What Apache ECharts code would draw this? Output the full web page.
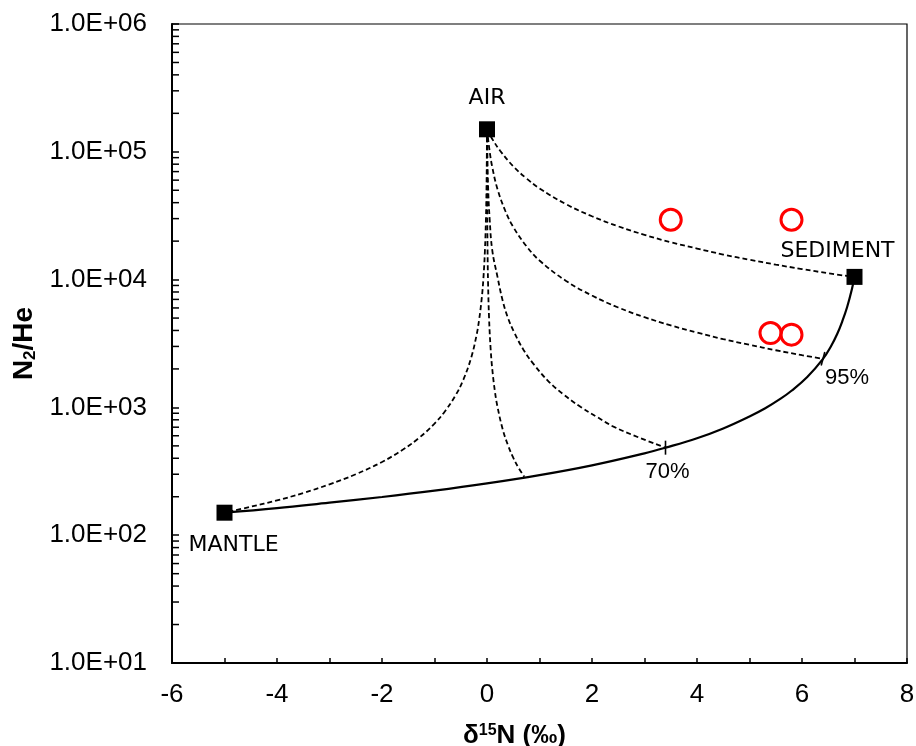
<!DOCTYPE html>
<html><head><meta charset="utf-8">
<script src="https://cdn.jsdelivr.net/npm/echarts@6/dist/echarts.min.js"></script>
<style>html,body{margin:0;padding:0;background:#fff}#c{width:916px;height:746px}</style>
</head><body><div id="c"></div>
<script>
// ---- data ----
const xTicks = [-6, -4, -2, 0, 2, 4, 6, 8];
const yTickLabels = ['1.0E+01', '1.0E+02', '1.0E+03', '1.0E+04', '1.0E+05', '1.0E+06'];
const yMinorTicks = [20,30,40,50,60,70,80,90, 200,300,400,500,600,700,800,900,
  2000,3000,4000,5000,6000,7000,8000,9000, 20000,30000,40000,50000,60000,70000,80000,90000,
  200000,300000,400000,500000,600000,700000,800000,900000];
const endmembers = [[0, 150000, 'AIR'], [7, 10500, 'SEDIMENT'], [-5, 150, 'MANTLE']];
const samples = [[3.5, 29400], [5.8, 29400], [5.4, 3820], [5.8, 3710]];
const pctMarks = [[3.4, 484, '70%'], [6.4, 2400, '95%']];
const mixMantleSediment = [[-5,150],[-4,163],[-3,180],[-2,199],[-1,223],[0,254],[1,295],[2,352],[3,437],[3.4,484],[4,574],[4.5,685],[5,850],[5.3,985],[5.6,1175],[5.8,1350],[6.1,1730],[6.4,2400],[6.55,3000],[6.67,3750],[6.77,4750],[6.86,6100],[6.95,8400],[7,10500]];
const mixAirMantle = [[0,150000],[-0.005,75000],[-0.01,50000],[-0.02,30000],[-0.04,16700],[-0.07,10000],[-0.1,7150],[-0.15,4850],[-0.2,3660],[-0.3,2460],[-0.45,1650],[-0.6,1240],[-0.8,933],[-1,747],[-1.3,575],[-1.6,468],[-2,374],[-2.5,300],[-3,250],[-3.5,214],[-4,187],[-4.5,167],[-5,150]];
const mixAirMix50 = [[0,150000],[0.005,32000],[0.01,17900],[0.02,9500],[0.04,4900],[0.07,2840],[0.1,2000],[0.15,1340],[0.2,1010],[0.3,672],[0.4,505],[0.5,404],[0.6,337],[0.71,287]];
const mixAir70 = [[0,150000],[0.02,55000],[0.05,30000],[0.1,17000],[0.2,10500],[0.3,6800],[0.4,5000],[0.52,3850],[0.7,2800],[0.9,2150],[1.17,1600],[1.45,1270],[1.78,1010],[2.1,840],[2.41,707],[2.9,580],[3.4,484]];
const mixAir95 = [[0,150000],[0.05,101000],[0.1,76000],[0.2,51000],[0.35,34400],[0.5,25800],[0.75,18300],[1,14100],[1.5,9800],[2,7500],[2.5,6050],[3,5080],[3.5,4380],[4,3850],[4.5,3420],[5,3090],[5.5,2800],[6,2560],[6.4,2400]];
const mixAirSediment = [[0,150000],[0.1,126000],[0.25,102000],[0.5,77000],[0.75,62000],[1,51700],[1.5,39000],[2,31300],[2.5,26100],[3,22400],[3.5,19600],[4,17500],[4.5,15700],[5,14300],[5.5,13100],[6,12100],[6.5,11200],[7,10500]];

// ---- chart ----
const chart = echarts.init(document.getElementById('c'), null, {renderer: 'canvas'});
const labelOffsets = {AIR: [0, -31], SEDIMENT: [-17, -26], MANTLE: [9, 33], '70%': [2, 24], '95%': [24, 19]};
const dashed = (data) => ({
  type: 'line', data: data, smooth: 0.4, symbol: 'none', silent: true, z: 2,
  lineStyle: {color: '#000', width: 1.8, type: [5, 3]}
});
const option = {
  backgroundColor: '#fff',
  animation: false,
  grid: {left: 172, right: 9, top: 24, bottom: 83, containLabel: false, outerBoundsMode: 'none',
    show: true, borderColor: '#000', borderWidth: 1.2},
  xAxis: {
    type: 'value', min: xTicks[0], max: xTicks[xTicks.length - 1], interval: 2,
    axisLine: {show: true, onZero: false, lineStyle: {color: '#000', width: 2}},
    axisTick: {show: true, inside: true, length: 5, lineStyle: {color: '#000', width: 1.5}},
    minorTick: {show: true, splitNumber: 2, length: 5, lineStyle: {color: '#000', width: 1.5}},
    splitLine: {show: false},
    axisLabel: {color: '#000', fontFamily: 'Liberation Sans', fontSize: 26, margin: 19},
    name: '{b|δ}{s|15}{b|N (‰)}', nameLocation: 'middle', nameGap: 60,
    nameTextStyle: {padding: [0, 50, 0, 0], rich: {
      b: {fontFamily: 'Liberation Sans', fontWeight: 'bold', fontSize: 26, color: '#000'},
      s: {fontFamily: 'Liberation Sans', fontWeight: 'bold', fontSize: 16, color: '#000', verticalAlign: 'top', padding: [0, 0, 10, 0]}
    }}
  },
  yAxis: {
    type: 'log', logBase: 10, min: 10, max: 1000000,
    axisLine: {show: true, onZero: false, lineStyle: {color: '#000', width: 2}},
    axisTick: {show: true, inside: true, length: 7, lineStyle: {color: '#000', width: 1.5}},
    splitLine: {show: false},
    axisLabel: {color: '#000', fontFamily: 'Liberation Sans', fontSize: 26, margin: 25,
      formatter: (v) => yTickLabels[Math.round(Math.log10(v)) - 1] || ''},
    name: '{b|N}{s|2}{b|/He}', nameLocation: 'middle', nameGap: 130, nameRotate: 90,
    nameTextStyle: {rich: {
      b: {fontFamily: 'Liberation Sans', fontWeight: 'bold', fontSize: 28, color: '#000'},
      s: {fontFamily: 'Liberation Sans', fontWeight: 'bold', fontSize: 17, color: '#000', verticalAlign: 'bottom', padding: [9, 0, 0, 0]}
    }}
  },
  series: [
    {
      type: 'custom', silent: true, z: 1,
      data: yMinorTicks.map(v => [xTicks[0], v]),
      renderItem: (params, api) => {
        const p = api.coord([api.value(0), api.value(1)]);
        return {type: 'line', shape: {x1: p[0], y1: p[1], x2: p[0] + 7, y2: p[1]},
          style: {stroke: '#000', lineWidth: 1.5}};
      }
    },
    {type: 'line', data: mixMantleSediment, smooth: 0.4, symbol: 'none', silent: true, z: 2,
      lineStyle: {color: '#000', width: 2.2}},
    dashed(mixAirMantle),
    dashed(mixAirMix50),
    dashed(mixAir70),
    dashed(mixAir95),
    dashed(mixAirSediment),
    {
      type: 'scatter', z: 4, silent: true,
      data: pctMarks.map(d => ({value: [d[0], d[1]], name: d[2], symbolRotate: d[2] === '95%' ? -15 : 0,
        label: {offset: labelOffsets[d[2]]}})),
      symbol: 'rect', symbolSize: [1.6, 14],
      itemStyle: {color: '#000', opacity: 1},
      label: {show: true, position: 'inside', formatter: p => p.name,
        fontFamily: 'Liberation Sans', fontSize: 22, color: '#000', textBorderWidth: 0}
    },
    {
      type: 'scatter', z: 5, silent: true,
      data: samples,
      symbol: 'circle', symbolSize: 21,
      itemStyle: {color: 'rgba(255,255,255,0)', borderColor: '#FF0000', borderWidth: 3, opacity: 1}
    },
    {
      type: 'scatter', z: 6, silent: true,
      data: endmembers.map(d => ({value: [d[0], d[1]], name: d[2], label: {offset: labelOffsets[d[2]]}})),
      symbol: 'rect', symbolSize: 16,
      itemStyle: {color: '#000', opacity: 1},
      label: {show: true, position: 'inside', formatter: p => p.name,
        fontFamily: 'DejaVu Sans', fontSize: 22, color: '#000', textBorderWidth: 0}
    }
  ]
};
chart.setOption(option);
</script>
</body></html>
